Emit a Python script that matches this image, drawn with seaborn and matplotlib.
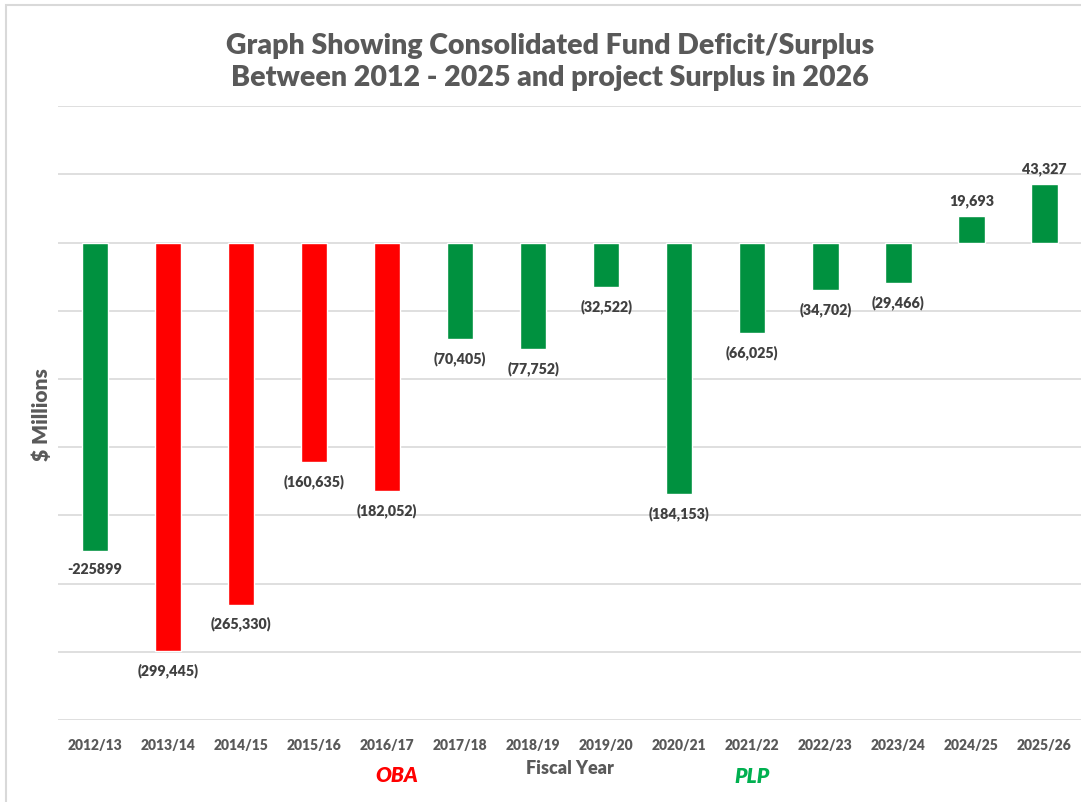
import seaborn as sns
import matplotlib.pyplot as plt
import pandas as pd
from matplotlib.patches import Rectangle

years = ['2012/13', '2013/14', '2014/15', '2015/16', '2016/17', '2017/18', '2018/19',
         '2019/20', '2020/21', '2021/22', '2022/23', '2023/24', '2024/25', '2025/26']
balance = [-225899, -299445, -265330, -160635, -182052, -70405, -77752,
           -32522, -184153, -66025, -34702, -29466, 19693, 43327]
labels = ['-225899', '(299,445)', '(265,330)', '(160,635)', '(182,052)', '(70,405)', '(77,752)',
          '(32,522)', '(184,153)', '(66,025)', '(34,702)', '(29,466)', '19,693', '43,327']
bar_colors = ['#00913F', '#FF0000', '#FF0000', '#FF0000', '#FF0000', '#00913F', '#00913F',
              '#00913F', '#00913F', '#00913F', '#00913F', '#00913F', '#00913F', '#00913F']

df = pd.DataFrame({'year': years, 'balance': balance})

sns.set_style('white')
plt.rcParams['font.family'] = ['Lato', 'DejaVu Sans']

fig = plt.figure(figsize=(10.81, 8.03), dpi=100)
ax = fig.add_axes([0.0541, 0.1021, 0.9459, 0.7643])

sns.barplot(data=df, x='year', y='balance', hue='year', palette=bar_colors,
            legend=False, width=0.36, saturation=1, ax=ax)

ax.set_ylim(-350000, 100000)
ax.set_xlim(-0.5, 13.5)
ax.set_yticks(range(-350000, 100001, 50000))
ax.set_yticklabels([])
ax.tick_params(axis='y', length=0)
ax.tick_params(axis='x', length=0, pad=13)
ax.grid(axis='y', color='#D9D9D9', linewidth=1.2)
ax.set_axisbelow(True)
for s in ax.spines.values():
    s.set_visible(False)

for lbl in ax.get_xticklabels():
    lbl.set_fontweight('heavy')
    lbl.set_fontsize(10)
    lbl.set_color('#595959')

for i, (v, t) in enumerate(zip(balance, labels)):
    if v < 0:
        ax.annotate(t, (i, v), xytext=(0, -8), textcoords='offset points',
                    ha='center', va='top', fontsize=10.3, fontweight='heavy', color='#404040')
    else:
        ax.annotate(t, (i, v), xytext=(0, 6), textcoords='offset points',
                    ha='center', va='bottom', fontsize=10.3, fontweight='heavy', color='#404040')

ax.set_xlabel('Fiscal Year', fontsize=13, fontweight='heavy', color='#595959', labelpad=6)
ax.set_ylabel('$ Millions', fontsize=15, fontweight='heavy', color='#595959', labelpad=2)

fig.text(550 / 1081, 1 - 62 / 803, 'Graph Showing Consolidated Fund Deficit/Surplus\nBetween 2012 - 2025 and project Surplus in 2026',
         ha='center', va='center', fontsize=20.5, fontweight='heavy', color='#595959', linespacing=1.32)

fig.text(397 / 1081, 1 - 776 / 803, 'OBA', ha='center', va='center', fontsize=15,
         fontweight='heavy', fontstyle='italic', color='#FF0000')
fig.text(752 / 1081, 1 - 777 / 803, 'PLP', ha='center', va='center', fontsize=15,
         fontweight='heavy', fontstyle='italic', color='#00B050')

fig.patches.append(Rectangle((6 / 1081, -0.1), 1.2, 1.1 - 6 / 803, transform=fig.transFigure,
                             fill=False, edgecolor='#D9D9D9', linewidth=1.5))

fig.savefig('out.png', dpi=100)
